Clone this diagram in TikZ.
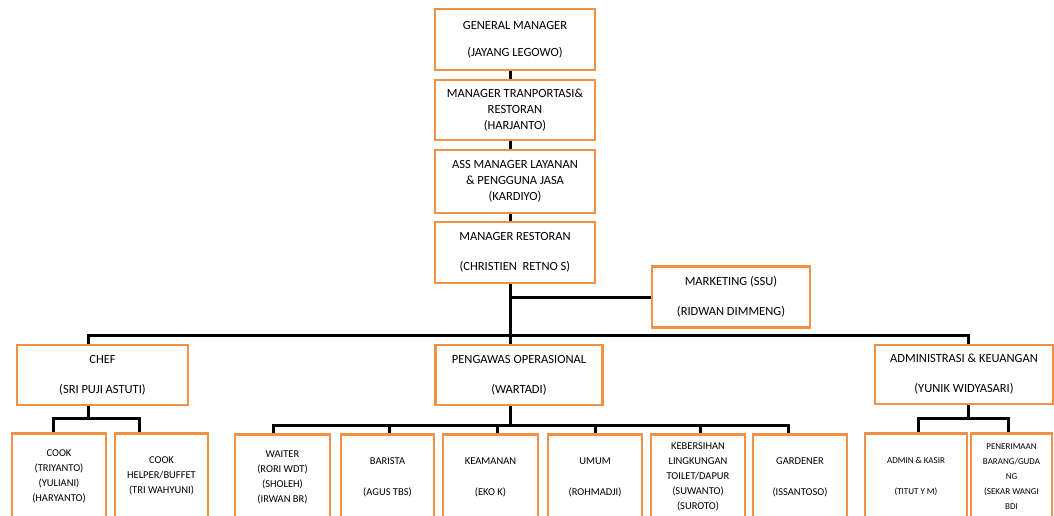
\documentclass[tikz,border=0pt]{standalone}
\usepackage{fontspec}
\setmainfont{Carlito}
\definecolor{boxorange}{RGB}{240,145,70}
\tikzset{
  unit/.style={draw=boxorange, line width=2.5pt, fill=white, align=center,
    font=\fontsize{12.5}{16}\selectfont, inner sep=2pt},
  staff/.style={draw=boxorange, line width=2.5pt, fill=white, align=center,
    font=\fontsize{10.5}{15}\selectfont, anchor=north, minimum height=86pt, inner sep=1pt},
  link/.style={line width=3pt}
}
\begin{document}
\begin{tikzpicture}[x=1pt,y=-1pt]
  \useasboundingbox (0,0) rectangle (1054,515);
  \clip (0,0) rectangle (1054,515);
  \fill[white] (0,0) rectangle (1054,515);
  % top of the chart
  \node[unit, minimum width=160pt, minimum height=61pt] (gm) at (515,39.5)
    {GENERAL MANAGER\\[11pt](JAYANG LEGOWO)};
  \node[unit, minimum width=160pt, minimum height=60pt] (mtr) at (515,110)
    {MANAGER TRANPORTASI\&\\RESTORAN\\(HARJANTO)};
  \node[unit, minimum width=160pt, minimum height=63pt] (ass) at (515,181.5)
    {ASS MANAGER LAYANAN\\\& PENGGUNA JASA\\(KARDIYO)};
  \node[unit, minimum width=160pt, minimum height=61pt] (mr) at (515,252.5)
    {MANAGER RESTORAN\\[14pt](CHRISTIEN\ \ RETNO S)};
  \node[unit, minimum width=158pt, minimum height=61pt] (mkt) at (731,297)
    {MARKETING (SSU)\\[14pt](RIDWAN DIMMENG)};
  % second level
  \node[unit, minimum width=171pt, minimum height=60pt] (chef) at (102.5,375)
    {CHEF\\[14pt](SRI PUJI ASTUTI)};
  \node[unit, minimum width=167pt, minimum height=60pt] (peng) at (519,375)
    {PENGAWAS OPERASIONAL\\[14pt](WARTADI)};
  \node[unit, minimum width=178pt, minimum height=59pt] (adm) at (964,374.5)
    {ADMINISTRASI \& KEUANGAN\\[14pt](YUNIK WIDYASARI)};
  % staff
  \node[staff, minimum width=94pt] (cook) at (59,432)
    {COOK\\(TRIYANTO)\\(YULIANI)\\(HARYANTO)};
  \node[staff, minimum width=93pt] (help) at (161.5,432)
    {COOK\\HELPER/BUFFET\\(TRI WAHYUNI)};
  \node[staff, minimum width=95pt] (waiter) at (282.5,433)
    {WAITER\\(RORI WDT)\\(SHOLEH)\\(IRWAN BR)};
  \node[staff, minimum width=93pt] (barista) at (387.5,433)
    {BARISTA\\[16pt](AGUS TBS)};
  \node[staff, minimum width=95pt] (keam) at (490.5,433)
    {KEAMANAN\\[16pt](EKO K)};
  \node[staff, minimum width=94pt] (umum) at (595,433)
    {UMUM\\[16pt](ROHMADJI)};
  \node[staff, minimum width=94pt] (keber) at (698,433)
    {KEBERSIHAN\\LINGKUNGAN\\TOILET/DAPUR\\(SUWANTO)\\(SUROTO)};
  \node[staff, minimum width=94pt] (garden) at (800,433)
    {GARDENER\\[16pt](ISSANTOSO)};
  \node[staff, minimum width=102pt, font=\fontsize{9}{15}\selectfont] (admk) at (916,432)
    {ADMIN \& KASIR\\[16pt](TITUT Y M)};
  \node[staff, minimum width=81pt, font=\fontsize{9}{15}\selectfont] (pener) at (1011.5,432)
    {PENERIMAAN\\BARANG/GUDA\\NG\\(SEKAR WANGI\\BDI};
  % connectors
  \coordinate (sp) at (510,0);
  \coordinate (bus) at (0,335);
  \coordinate (chefbus) at (0,418);
  \coordinate (pengbus) at (0,425);
  \coordinate (admbus) at (0,418);
  \draw[link] (gm.south -| sp) -- (mtr.north -| sp);
  \draw[link] (mtr.south -| sp) -- (ass.north -| sp);
  \draw[link] (ass.south -| sp) -- (mr.north -| sp);
  \draw[link] (mr.south -| sp) -- (peng.north -| sp);
  \draw[link] (mkt.west) -- (mkt.west -| sp);
  \draw[link] ([xshift=-14pt]chef.north) |- ([xshift=4pt]adm.north |- bus)
    -- ([xshift=4pt]adm.north);
  \draw[link] ([xshift=-14pt]chef.south) -- ([xshift=-14pt]chef.south |- chefbus);
  \draw[link] ([xshift=-6pt]cook.north) |- ([xshift=-22pt]help.north |- chefbus)
    -- ([xshift=-22pt]help.north);
  \draw[link] (peng.south -| sp) -- (pengbus -| sp);
  \draw[link] ([xshift=-9pt]waiter.north) |- ([xshift=-12pt]garden.north |- pengbus)
    -- ([xshift=-12pt]garden.north);
  \foreach \n/\dx in {barista/2,keam/7,umum/0,keber/2}
    \draw[link] ([xshift=\dx pt]\n.north) -- ([xshift=\dx pt]\n.north |- pengbus);
  \draw[link] ([xshift=4pt]adm.south) -- ([xshift=4pt]adm.south |- admbus);
  \draw[link] ([xshift=2pt]admk.north) |- ([xshift=-3pt]pener.north |- admbus)
    -- ([xshift=-3pt]pener.north);
\end{tikzpicture}
\end{document}
